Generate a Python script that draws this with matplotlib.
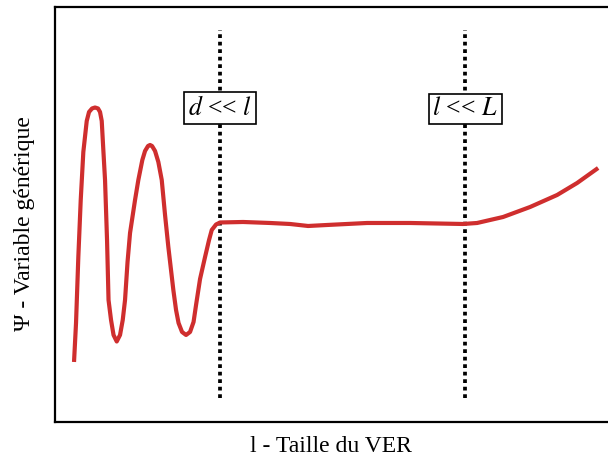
import matplotlib
matplotlib.use("Agg")
import matplotlib.pyplot as plt

plt.rcParams['font.family'] = ['Liberation Serif', 'DejaVu Serif']
plt.rcParams['mathtext.fontset'] = 'stix'

# curve (arbitrary units)
x_vals = [19, 21, 23.3, 25.7, 28.3, 31.7, 34, 37, 40, 43, 45, 46.7, 48.3, 50, 52,
          53.5, 56, 58.5, 61.7, 65, 67.7, 70, 72.5, 75, 80, 83.3, 87.3, 90, 93, 95,
          97, 100, 103.3, 106.7, 110, 113.3, 118.3, 121, 123.5, 127, 131, 135,
          138.5, 141, 145, 150, 154, 156.7, 161, 165,
          188, 215, 235, 253, 272, 312, 355, 408, 422, 448, 475, 502, 522, 543]
y_vals = [60, 99, 165, 222, 270, 301, 310, 313.5, 314.5, 313.5, 310, 301, 272, 242, 182,
          122, 102, 87, 80.5, 87, 102, 122, 160, 189, 222, 242, 262, 271, 276, 277,
          276, 271, 260, 242, 207, 175, 132, 112, 99, 90, 87, 90,
          100, 117, 143, 165, 182, 192, 197.5, 199.5,
          200, 199, 198, 196, 197, 199, 199, 198, 199, 205, 215, 227, 239, 254]

# scale limits and their labels
limit_x = [165, 410]
limit_labels = [r"$d$ << $l$", r"$l$ << $L$"]
label_y = [314, 313]

fig = plt.figure(figsize=(6.08, 4.63), dpi=100)
ax = fig.add_axes([0.0905, 0.0886, 0.913, 0.8963])

ax.plot(x_vals, y_vals, color='#cf2e2e', lw=3, solid_joinstyle='round',
        solid_capstyle='butt', zorder=3)

for xv, lab, ly in zip(limit_x, limit_labels, label_y):
    ax.plot([xv, xv], [24, 392], color='black', lw=2.7, linestyle=(0, (1, 1)),
            dash_capstyle='butt', zorder=2)
    ax.text(xv, ly, lab, ha='center', va='center', fontsize=18.5, zorder=4,
            bbox=dict(boxstyle='square,pad=0.15', facecolor='white', edgecolor='black', linewidth=1.2))

ax.set_xlim(0, 555)
ax.set_ylim(0, 415)
ax.set_xticks([])
ax.set_yticks([])
for s in ['left', 'top', 'bottom']:
    ax.spines[s].set_linewidth(1.6)
ax.spines['right'].set_visible(False)

fig.text(331 / 608, 1 - 447 / 463, "l - Taille du VER", ha='center', va='center', fontsize=17)
fig.text(25 / 608, 1 - 224 / 463, "Ψ - Variable générique", ha='center', va='center',
         rotation=90, fontsize=17)

fig.savefig("out.png", dpi=100)
